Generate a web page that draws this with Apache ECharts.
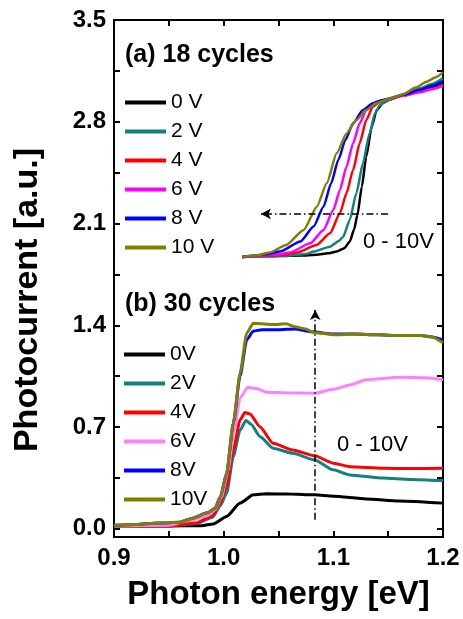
<!DOCTYPE html>
<html>
<head>
<meta charset="utf-8">
<script src="https://cdn.jsdelivr.net/npm/echarts@6/dist/echarts.min.js"></script>
<style>
  html, body { margin: 0; padding: 0; background: #fff; }
  #chart { width: 463px; height: 619px; }
</style>
</head>
<body>
<div id="chart"></div>
<script>
// (a) 18 cycles, [photon energy eV, photocurrent a.u.]
const a0V = [[1.017,1.87],[1.03,1.875],[1.05,1.876],[1.07,1.88],[1.085,1.885],[1.095,1.895],[1.103,1.907],[1.11,1.93],[1.115,1.976],[1.119,2.06],[1.122,2.16],[1.126,2.354],[1.13,2.56],[1.135,2.766],[1.1395,2.88],[1.1455,2.93],[1.152,2.955],[1.164,2.985],[1.179,3.015],[1.19,3.04],[1.2,3.07]]
const a2V = [[1.017,1.87],[1.04,1.875],[1.06,1.88],[1.075,1.89],[1.082,1.907],[1.097,1.941],[1.105,1.98],[1.109,2.01],[1.115,2.125],[1.121,2.308],[1.127,2.515],[1.133,2.72],[1.138,2.858],[1.1425,2.915],[1.15,2.95],[1.164,2.99],[1.179,3.03],[1.19,3.06],[1.2,3.1]]
const a4V = [[1.017,1.87],[1.04,1.878],[1.055,1.885],[1.0665,1.9],[1.0847,1.953],[1.097,2.033],[1.106,2.171],[1.112,2.308],[1.118,2.468],[1.124,2.652],[1.13,2.812],[1.136,2.904],[1.1425,2.938],[1.15,2.955],[1.164,2.98],[1.179,3.005],[1.19,3.025],[1.2,3.05]]
const a6V = [[1.017,1.87],[1.035,1.878],[1.05,1.888],[1.06,1.9],[1.079,1.964],[1.091,2.056],[1.1,2.193],[1.106,2.331],[1.112,2.49],[1.118,2.652],[1.124,2.789],[1.13,2.881],[1.139,2.938],[1.15,2.955],[1.164,2.98],[1.179,3.005],[1.19,3.025],[1.2,3.05]]
const a8V = [[1.017,1.87],[1.03,1.88],[1.04,1.89],[1.051,1.907],[1.07,1.976],[1.082,2.079],[1.091,2.216],[1.098,2.377],[1.1045,2.537],[1.111,2.675],[1.118,2.789],[1.127,2.881],[1.136,2.927],[1.145,2.95],[1.164,2.985],[1.179,3.02],[1.19,3.05],[1.2,3.08]]
const a10V = [[1.017,1.87],[1.03,1.88],[1.042,1.9],[1.057,1.953],[1.073,2.056],[1.085,2.216],[1.094,2.377],[1.103,2.583],[1.112,2.72],[1.121,2.812],[1.13,2.881],[1.139,2.927],[1.15,2.955],[1.164,2.99],[1.175,3.035],[1.185,3.075],[1.193,3.105],[1.2,3.14]]

// (b) 30 cycles
const b0V = [[0.9,0.02],[0.95,0.02],[0.98,0.022],[0.9905,0.034],[1.0027,0.085],[1.015,0.177],[1.027,0.234],[1.039,0.241],[1.06,0.24],[1.083,0.234],[1.1,0.225],[1.13,0.206],[1.16,0.192],[1.2,0.177]]
const b2V = [[0.9,0.02],[0.95,0.02],[0.975,0.035],[0.99,0.08],[0.997,0.16],[1.0027,0.245],[1.0088,0.497],[1.015,0.68],[1.0203,0.745],[1.025,0.72],[1.033,0.635],[1.045,0.555],[1.063,0.52],[1.083,0.474],[1.1,0.406],[1.115,0.371],[1.1455,0.349],[1.17,0.34],[1.2,0.332]]
const b4V = [[0.9,0.02],[0.95,0.02],[0.975,0.04],[0.99,0.09],[0.997,0.18],[1.0027,0.291],[1.0088,0.543],[1.015,0.75],[1.0194,0.8],[1.024,0.79],[1.033,0.703],[1.045,0.589],[1.063,0.543],[1.083,0.502],[1.1,0.452],[1.115,0.428],[1.1455,0.417],[1.17,0.415],[1.2,0.417]]
const b6V = [[0.9,0.02],[0.95,0.025],[0.97,0.06],[0.985,0.09],[0.992,0.13],[0.998,0.22],[1.004,0.4],[1.0095,0.68],[1.015,0.9],[1.022,0.974],[1.03,0.965],[1.039,0.94],[1.06,0.935],[1.083,0.933],[1.1,0.96],[1.115,0.99],[1.13,1.025],[1.16,1.043],[1.185,1.04],[1.2,1.025]]
const b8V = [[0.9,0.025],[0.92,0.03],[0.94,0.04],[0.96,0.045],[0.97,0.07],[0.985,0.11],[0.992,0.14],[0.997,0.22],[1.0027,0.383],[1.0088,0.727],[1.0149,1.05],[1.021,1.3],[1.027,1.36],[1.035,1.37],[1.05,1.37],[1.065,1.375],[1.08,1.355],[1.1,1.34],[1.12,1.34],[1.14,1.335],[1.16,1.33],[1.18,1.33],[1.19,1.32],[1.2,1.3]]
const b10V = [[0.9,0.025],[0.92,0.03],[0.94,0.04],[0.96,0.045],[0.97,0.07],[0.985,0.11],[0.992,0.14],[0.997,0.22],[1.0027,0.383],[1.0088,0.727],[1.0149,1.07],[1.021,1.346],[1.027,1.414],[1.035,1.41],[1.045,1.405],[1.057,1.41],[1.065,1.39],[1.075,1.375],[1.082,1.35],[1.09,1.345],[1.1,1.335],[1.12,1.34],[1.14,1.335],[1.16,1.33],[1.18,1.33],[1.19,1.32],[1.2,1.28]]

// arrows (dash-dot) [start, end]
const arrowA = [[1.1498,2.166],[1.034,2.166]]
const arrowB = [[1.0835,0.062],[1.0835,1.506]]

const namesA = ['0 V','2 V','4 V','6 V','8 V','10 V']
const namesB = ['0V','2V','4V','6V','8V','10V']
const colorsA = ['#000000','#138080','#ff0000','#ff00ff','#0000ff','#808000']
const colorsB = ['#000000','#138080','#ff0000','#ff80ff','#0000ff','#808000']

const xLabels = [0.9, 1.0, 1.1, 1.2]
const xTicks = [0.9, 0.95, 1.0, 1.05, 1.1, 1.15, 1.2]
const yLabels = [0, 0.7, 1.4, 2.1, 2.8, 3.5]
const yTicks = [0, 0.35, 0.7, 1.05, 1.4, 1.75, 2.1, 2.45, 2.8, 3.15, 3.5]

const FONT = 'Liberation Sans, Arial, Helvetica, sans-serif'

const chart = echarts.init(document.getElementById('chart'), null, { renderer: 'canvas' })

const mkAxis = (extra) => Object.assign({
  type: 'value',
  axisLine: { show: true, onZero: false, lineStyle: { color: '#000', width: 2 } },
  splitLine: { show: false },
  axisTick: { show: true, inside: true, length: 6, lineStyle: { color: '#000', width: 2 } }
}, extra)

const dashDot = [7, 3, 1.5, 3]

const mkSeries = (name, data, color, width, arrow) => {
  const s = {
    name: name,
    type: 'line',
    data: data,
    showSymbol: false,
    symbol: 'none',
    smooth: 0.2,
    smoothMonotone: 'x',
    lineStyle: { color: color, width: width },
    itemStyle: { color: color },
    z: 2
  }
  if (arrow) {
    s.markLine = {
      silent: true,
      symbol: ['none', 'arrow'],
      symbolSize: [8, 10],
      label: { show: false },
      lineStyle: { color: '#000', width: 1.5, type: dashDot },
      data: [[{ coord: arrow[0] }, { coord: arrow[1] }]]
    }
  }
  return s
}

const dataA = [a0V, a2V, a4V, a6V, a8V, a10V]
const dataB = [b0V, b2V, b4V, b6V, b8V, b10V]

const series = []
dataA.forEach((d, i) => series.push(mkSeries(namesA[i], d, colorsA[i], 2.5, i === 0 ? arrowA : null)))
dataB.forEach((d, i) => series.push(mkSeries(namesB[i], d, colorsB[i], 3, i === 0 ? arrowB : null)))

const legendBase = {
  orient: 'vertical',
  icon: 'rect',
  padding: 0,
  itemWidth: 41,
  itemHeight: 4,
  itemGap: 8,
  selectedMode: false,
  textStyle: { fontFamily: FONT, fontSize: 21, color: '#000', lineHeight: 21, padding: [0, 0, 0, 0] }
}

const titleStyle = { fontFamily: FONT, fontSize: 25, fontWeight: 'bold', color: '#000' }

const option = {
  animation: false,
  backgroundColor: '#fff',
  title: [
    { text: '(a) 18 cycles', left: 125, top: 43, padding: 0, textStyle: titleStyle },
    { text: '(b) 30 cycles', left: 125, top: 292, padding: 0, textStyle: titleStyle }
  ],
  legend: [
    Object.assign({ left: 125, top: 92, data: namesA }, legendBase),
    Object.assign({ left: 124, top: 344, data: namesB }, legendBase)
  ],
  grid: { left: 114, right: 20, top: 20, bottom: 82, containLabel: false },
  xAxis: [
    mkAxis({
      position: 'bottom', min: 0.9, max: 1.2,
      name: 'Photon energy [eV]', nameLocation: 'middle', nameGap: 41,
      nameTextStyle: { fontFamily: FONT, fontSize: 33, fontWeight: 'bold', color: '#000' },
      axisTick: { show: true, inside: true, length: 6, customValues: xTicks, lineStyle: { color: '#000', width: 2 } },
      axisLabel: { customValues: xLabels, margin: 9, fontFamily: FONT, fontSize: 24, fontWeight: 'bold', color: '#000', formatter: v => v.toFixed(1) }
    }),
    mkAxis({
      position: 'top', min: 0.9, max: 1.2,
      axisTick: { show: true, inside: true, length: 6, customValues: xTicks, lineStyle: { color: '#000', width: 2 } },
      axisLabel: { show: false, customValues: xLabels }
    })
  ],
  yAxis: [
    mkAxis({
      position: 'left', min: -0.056, max: 3.5,
      axisTick: { show: true, inside: true, length: 6, customValues: yTicks, lineStyle: { color: '#000', width: 2 } },
      axisLabel: { customValues: yLabels, margin: 8, fontFamily: FONT, fontSize: 24, fontWeight: 'bold', color: '#000', formatter: v => v.toFixed(1) }
    }),
    mkAxis({
      position: 'right', min: -0.056, max: 3.5,
      axisTick: { show: true, inside: true, length: 6, customValues: yTicks, lineStyle: { color: '#000', width: 2 } },
      axisLabel: { show: false, customValues: yLabels }
    })
  ],
  graphic: [
    // y axis title, placed lower than the axis centre as in the original
    { type: 'text', x: 28, y: 300, rotation: Math.PI / 2,
      style: { text: 'Photocurrent [a.u.]', fontFamily: FONT, fontSize: 34, fontWeight: 'bold', fill: '#000', align: 'center', verticalAlign: 'middle' } },
    { type: 'text', left: 363, top: 231, style: { text: '0 - 10V', fontFamily: FONT, fontSize: 22, fill: '#000' } },
    { type: 'text', left: 337, top: 434, style: { text: '0 - 10V', fontFamily: FONT, fontSize: 22, fill: '#000' } }
  ],
  series: series
}

chart.setOption(option)
</script>
</body>
</html>
